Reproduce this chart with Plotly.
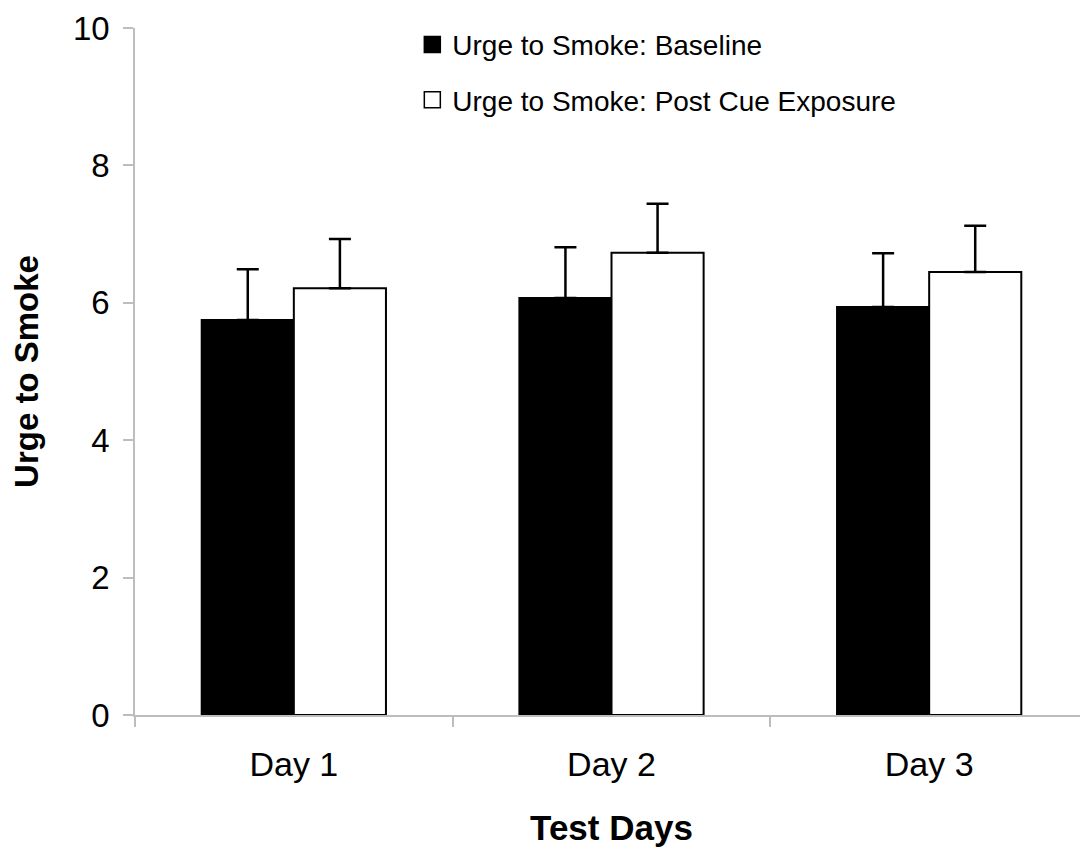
import plotly.graph_objects as go

days = ["Day 1", "Day 2", "Day 3"]
baseline = [5.75, 6.07, 5.94]
baseline_err = [0.74, 0.74, 0.78]
post_cue = [6.21, 6.73, 6.45]
post_cue_err = [0.72, 0.71, 0.67]
series_names = ["Urge to Smoke: Baseline", "Urge to Smoke: Post Cue Exposure"]

FONT = "Liberation Sans, Arial, sans-serif"
AXIS_GRAY = "#BDBDBD"

fig = go.Figure()
fig.add_trace(go.Bar(
    x=days, y=baseline, name=series_names[0], showlegend=False,
    marker=dict(color="black", line=dict(color="black", width=2)),
    error_y=dict(type="data", array=baseline_err, arrayminus=[0] * len(days),
                 symmetric=False, color="black", thickness=2.5, width=11),
))
fig.add_trace(go.Bar(
    x=days, y=post_cue, name=series_names[1], showlegend=False,
    marker=dict(color="white", line=dict(color="black", width=2)),
    error_y=dict(type="data", array=post_cue_err, arrayminus=[0] * len(days),
                 symmetric=False, color="black", thickness=2.5, width=11),
))
# legend entries
fig.add_trace(go.Scatter(
    x=[None], y=[None], mode="markers", name=series_names[0], legendgroup="a",
    marker=dict(symbol="square", size=18, color="black", line=dict(color="black", width=1.5)),
))
fig.add_trace(go.Scatter(
    x=[None], y=[None], mode="markers", name=series_names[1], legendgroup="b",
    marker=dict(symbol="square", size=18, color="white", line=dict(color="black", width=1.5)),
))

fig.update_layout(
    width=1088, height=850,
    margin=dict(l=127, r=8, t=20, b=143),
    plot_bgcolor="white", paper_bgcolor="white",
    font=dict(family=FONT, color="black", size=32),
    barmode="group", bargap=0.42, bargroupgap=0,
    showlegend=True,
    legend=dict(x=0.291, y=1.012, xanchor="left", yanchor="top",
                font=dict(size=28, family=FONT), tracegroupgap=16,
                bgcolor="rgba(0,0,0,0)", itemsizing="trace"),
    xaxis=dict(
        showline=True, linecolor=AXIS_GRAY, linewidth=1.5,
        ticks="outside", tickson="boundaries", ticklen=10, tickcolor=AXIS_GRAY,
        tickwidth=1.5, showgrid=False, automargin=False,
        tickfont=dict(size=34), ticklabelstandoff=18,
        title=dict(text="<b>Test Days</b>", font=dict(size=35), standoff=34),
    ),
    yaxis=dict(
        range=[0, 10], dtick=2, showline=True, linecolor=AXIS_GRAY, linewidth=1.5,
        ticks="outside", ticklen=10, tickcolor=AXIS_GRAY, tickwidth=1.5,
        showgrid=False, zeroline=False, tickfont=dict(size=33), automargin=False,
        ticklabelstandoff=7,
        title=dict(text="<b>Urge to Smoke</b>", font=dict(size=33), standoff=26),
    ),
)

fig.write_html("out.html")
